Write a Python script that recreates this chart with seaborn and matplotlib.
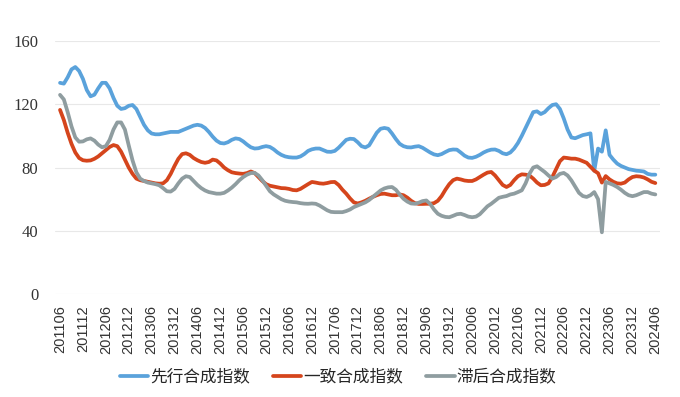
import numpy as np
import pandas as pd
import matplotlib
matplotlib.use("Agg")
import matplotlib.pyplot as plt
import seaborn as sns

# monthly, 201106 .. 202406
START = "2011-06"
N_MONTHS = 157

leading = [
    133.5, 133, 137, 142, 143.5, 141, 136, 129, 125, 126, 130, 133.5,
    133.5, 130, 124, 119, 117, 117.5, 119, 119.5, 117, 112, 107, 103.5,
    101.5, 101, 101, 101.5, 102, 102.5, 102.5, 102.5, 103.5, 104.5, 105.5, 106.5,
    107, 106.5, 105, 102.5, 99.5, 97, 95.5, 95.2, 96, 97.5, 98.4, 98,
    96.5, 94.5, 92.8, 92, 92.2, 93, 93.5, 93, 91.5, 89.5, 88, 87,
    86.5, 86.3, 86.3, 87, 88.5, 90.5, 91.5, 92, 92, 91, 90, 89.9,
    90.5, 92.5, 95, 97.5, 98.2, 98, 96, 93.5, 92.7, 94, 98, 102,
    104.5, 105, 104.5, 101.5, 98, 95, 93.5, 92.8, 92.7, 93.2, 93.5, 92.5,
    91, 89.5, 88.3, 87.8, 88.5, 89.8, 91, 91.4, 91.3, 89.5, 87.5, 86.3,
    86.1, 86.8, 88, 89.5, 90.6, 91.3, 91.4, 90.5, 89, 88.4, 89.5, 92,
    95.5, 100, 105, 110, 115, 115.5, 113.8, 115, 117.5, 119.5, 120, 117,
    111, 104, 99, 98.5, 99.5, 100.5, 101, 101.6, 78, 92, 90, 103.5,
    88, 85, 82.5, 81, 80, 79, 78.5, 78, 77.8, 77.5, 76, 75.5,
    75.5,
]

coincident = [
    116.4, 110, 102, 95, 89.5, 86, 84.6, 84.3, 84.5, 85.5, 87, 89,
    91, 93, 94.2, 93.5, 90, 85, 80, 76, 73, 72, 71.5, 71,
    70.5, 70, 69.8, 70, 72, 76, 81, 85.5, 88.5, 89, 88, 86,
    84.6, 83.5, 83, 83.5, 85, 84.5, 82.5, 80, 78.3, 77, 76.5, 76.2,
    76, 76.5, 77.5, 76.5, 74, 71.5, 69.5, 68.5, 68, 67.5, 67, 66.9,
    66.5, 65.8, 65.6, 66.5, 68, 69.5, 70.9, 70.5, 70, 69.8, 70.2, 70.8,
    70.9, 69, 66, 63.5, 60.5, 58, 57.3, 58, 59, 60.3, 61.5, 62.5,
    63.3, 63.5, 63, 62.5, 62.5, 63, 62.5, 61, 59, 57.5, 57, 57,
    57.1, 57.1, 57.5, 59, 62, 66, 69.5, 72, 73, 72.5, 71.8, 71.5,
    71.5, 72.5, 74, 75.5, 76.8, 77.2, 75, 72, 69, 67.7, 69, 72,
    74.5, 75.7, 75.5, 75, 73, 70.5, 68.8, 69, 70, 74, 79, 84,
    86.3, 86, 85.6, 85.6, 85, 84, 83, 80.5, 78, 76.4, 70.5, 74.6,
    72.5, 71, 70, 69.8, 70.5, 72.5, 74, 74.5, 74.3, 73.7, 72.5, 71,
    70.2,
]

lagging = [
    125.9, 123, 115, 106, 99, 96.3, 96.5, 97.8, 98.4, 97, 94.5, 92.8,
    93.5, 97.5, 104, 108.5, 108.5, 104, 94, 84.5, 77, 73, 71.5, 70.5,
    70, 69.5, 68.8, 67, 65, 64.8, 66.5, 70, 73, 74.5, 74, 71.5,
    69, 67, 65.5, 64.5, 64, 63.5, 63.5, 64, 65.5, 67.3, 69.5, 72,
    74, 75.5, 76.5, 76.6, 75, 72, 68.5, 65, 63, 61.5, 60, 59,
    58.5, 58.2, 58, 57.5, 57.2, 57.1, 57.3, 57.1, 56, 54.5, 53, 52,
    51.8, 51.8, 51.8, 52.5, 53.5, 55, 56, 57, 58, 59.5, 61.5, 63.5,
    65.5, 66.8, 67.5, 67.7, 66, 63, 60.3, 58.5, 57.3, 57.1, 57.8, 58.8,
    59.2, 57, 53.5, 50.8, 49.5, 48.8, 48.6, 49.5, 50.5, 50.8, 50, 49,
    48.6, 49, 50.5, 53, 55.5, 57.1, 59, 60.9, 61.5, 62, 63, 63.5,
    64.5, 65.6, 70, 76, 80, 80.8, 79, 77.2, 75, 73, 74, 76,
    76.6, 75, 71.9, 68, 64, 62, 61.4, 62.5, 64.5, 60, 39.1, 70.9,
    70, 69, 67.7, 66, 64, 62.5, 61.9, 62.5, 63.5, 64.5, 64.5, 63.5,
    63,
]

series_names = ["先行合成指数", "一致合成指数", "滞后合成指数"]
series_colors = ["#5AA2DB", "#D5451C", "#8F9DA0"]
y_ticks = [0, 40, 80, 120, 160]


def build_frame():
    months = pd.period_range(START, periods=N_MONTHS, freq="M")
    labels = [p.strftime("%Y%m") for p in months]
    frames = []
    for name, vals in zip(series_names, [leading, coincident, lagging]):
        frames.append(pd.DataFrame({
            "idx": np.arange(N_MONTHS),
            "label": labels,
            "value": vals,
            "series": name,
        }))
    return pd.concat(frames, ignore_index=True), labels


def main():
    df, labels = build_frame()

    sns.set_style("white")
    plt.rcParams["font.family"] = ["Noto Sans CJK SC", "DejaVu Sans"]

    fig = plt.figure(figsize=(6.8, 3.97), dpi=100)
    ax = fig.add_axes([0.081, 0.259, 0.89, 0.638])

    for y in y_ticks:
        ax.axhline(y, color="#E8E8E8", lw=0.8, zorder=0)

    sns.lineplot(
        data=df, x="idx", y="value", hue="series",
        hue_order=series_names, palette=series_colors,
        linewidth=2.7, ax=ax, legend=False,
    )

    ax.set_xlim(-1.3, N_MONTHS - 1 + 1.3)
    ax.set_ylim(0, 160)
    ax.set_yticks(y_ticks)
    ax.set_yticklabels([str(v) for v in y_ticks])
    tick_idx = list(range(0, N_MONTHS, 6))
    ax.set_xticks(tick_idx)
    ax.set_xticklabels([labels[i] for i in tick_idx], rotation=90)
    ax.tick_params(axis="x", length=0, pad=8)
    ax.tick_params(axis="y", length=0, pad=12)
    ax.set_xlabel("")
    ax.set_ylabel("")
    sns.despine(ax=ax, left=True, bottom=True)

    for t in ax.get_yticklabels():
        t.set_fontfamily("Liberation Serif")
        t.set_fontsize(12)
        t.set_color("#333333")
    for t in ax.get_xticklabels():
        t.set_fontfamily("Liberation Sans")
        t.set_fontsize(10.5)
        t.set_color("#333333")

    handles = [plt.Line2D([], [], color=c, lw=2.7) for c in series_colors]
    fig.legend(handles, series_names, loc="center", bbox_to_anchor=(0.497, 0.05),
               ncol=3, frameon=False, handlelength=1.7,
               handletextpad=0.1, columnspacing=1.4,
               prop={"family": ["Noto Sans CJK SC", "DejaVu Sans"], "size": 12})

    fig.savefig("out.png", dpi=100)
    plt.close(fig)


if __name__ == "__main__":
    main()
